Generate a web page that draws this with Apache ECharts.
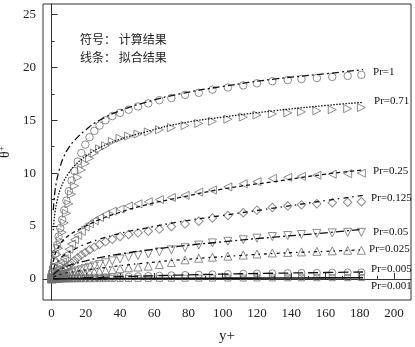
<!DOCTYPE html>
<html>
<head>
<meta charset="utf-8">
<script src="https://cdn.jsdelivr.net/npm/echarts@6/dist/echarts.min.js"></script>
<style>
  html, body { margin: 0; padding: 0; background: #fff; }
  #chart { width: 415px; height: 347px; }
</style>
</head>
<body>
<div id="chart"></div>
<script>
// mesh points (y+) where the computed values are shown
const meshX = [0, 0.2, 0.6, 1.1, 1.7, 2.4, 3.2, 4.1, 5.1, 6.2, 7.4, 8.7, 10.1, 11.7, 13.4, 15.3, 17.4, 19.7, 22.2, 25,
  28, 31.5, 35.5, 40, 45, 50.5, 56.5, 63, 70, 78, 86, 94, 103, 112, 120, 129, 138, 146, 155, 164, 173, 181]

// computed results (symbols)
const calcPr1 = [0, 0.2, 0.6, 1.1, 1.7, 2.4, 3.2, 4.0, 4.8, 5.6, 6.5, 7.4, 8.3, 9.3, 10.2, 11.1, 11.9, 12.7, 13.4, 14.0,
  14.5, 15.0, 15.4, 15.7, 16.0, 16.3, 16.6, 16.9, 17.1, 17.4, 17.6, 17.9, 18.1, 18.3, 18.5, 18.7, 18.8, 18.9, 19.0, 19.1, 19.2, 19.3]
const calcPr071 = [0, 0.14, 0.43, 0.78, 1.2, 1.7, 2.3, 2.9, 3.6, 4.4, 5.3, 6.2, 7.1, 8.0, 8.8, 9.6, 10.3, 10.9, 11.4, 11.9,
  12.3, 12.6, 13.0, 13.3, 13.5, 13.7, 13.9, 14.1, 14.3, 14.5, 14.7, 14.9, 15.1, 15.3, 15.5, 15.6, 15.7, 15.8, 15.9, 16.0, 16.1, 16.2]
const calcPr025 = [0, 0.05, 0.15, 0.28, 0.43, 0.6, 0.8, 1.0, 1.3, 1.6, 1.9, 2.3, 2.8, 3.3, 3.7, 4.1, 4.5, 4.9, 5.2, 5.5,
  5.8, 6.1, 6.4, 6.6, 6.9, 7.1, 7.3, 7.5, 7.7, 7.9, 8.2, 8.4, 8.7, 9.0, 9.2, 9.5, 9.6, 9.7, 9.8, 9.9, 9.95, 10.0]
const calcPr0125 = [0, 0.03, 0.08, 0.14, 0.21, 0.3, 0.4, 0.5, 0.64, 0.78, 0.93, 1.1, 1.3, 1.5, 1.75, 2.0, 2.25, 2.5, 2.75, 3.0,
  3.25, 3.5, 3.75, 4.0, 4.2, 4.35, 4.5, 4.7, 4.95, 5.2, 5.45, 5.75, 6.0, 6.25, 6.5, 6.75, 6.9, 7.0, 7.1, 7.2, 7.25, 7.3]
const calcPr005 = [0, 0.01, 0.03, 0.055, 0.085, 0.12, 0.16, 0.2, 0.25, 0.31, 0.37, 0.43, 0.5, 0.58, 0.66, 0.76, 0.86, 0.97, 1.09, 1.22,
  1.36, 1.52, 1.7, 1.88, 2.05, 2.2, 2.35, 2.55, 2.75, 2.95, 3.2, 3.4, 3.55, 3.7, 3.85, 4.0, 4.1, 4.2, 4.3, 4.35, 4.4, 4.4]
const calcPr0025 = [0, 0.005, 0.015, 0.03, 0.04, 0.06, 0.08, 0.1, 0.13, 0.16, 0.19, 0.22, 0.26, 0.3, 0.34, 0.39, 0.44, 0.5, 0.56, 0.63,
  0.7, 0.78, 0.87, 0.96, 1.05, 1.12, 1.2, 1.35, 1.55, 1.8, 1.95, 2.05, 2.15, 2.25, 2.35, 2.45, 2.5, 2.55, 2.6, 2.65, 2.7, 2.7]
const calcPr0005 = [0, 0.001, 0.003, 0.006, 0.009, 0.012, 0.016, 0.02, 0.026, 0.03, 0.037, 0.044, 0.05, 0.06, 0.067, 0.077, 0.087, 0.1, 0.11, 0.125,
  0.14, 0.16, 0.18, 0.2, 0.22, 0.25, 0.28, 0.31, 0.34, 0.37, 0.4, 0.43, 0.46, 0.49, 0.51, 0.53, 0.55, 0.57, 0.58, 0.6, 0.61, 0.62]
const calcPr0001 = [0, 0, 0, 0.001, 0.001, 0.002, 0.003, 0.003, 0.004, 0.005, 0.006, 0.007, 0.008, 0.009, 0.011, 0.012, 0.014, 0.016, 0.018, 0.02,
  0.022, 0.025, 0.028, 0.032, 0.036, 0.04, 0.045, 0.05, 0.055, 0.06, 0.065, 0.07, 0.075, 0.08, 0.085, 0.09, 0.095, 0.1, 0.105, 0.11, 0.115, 0.12]

// fitted curves (lines)
const fitX = [1, 1.5, 2, 3, 4, 5, 7, 10, 14, 20, 28, 40, 55, 75, 100, 130, 160, 182]
const fitPr1 = [6.5, 7.5, 8.3, 9.3, 10.0, 10.6, 11.5, 12.4, 13.2, 14.1, 15.0, 15.9, 16.7, 17.5, 18.2, 18.9, 19.4, 19.8]
const fitPr071 = [4.6, 5.6, 6.3, 7.2, 7.9, 8.4, 9.2, 10.0, 10.8, 11.6, 12.4, 13.2, 13.9, 14.7, 15.3, 15.9, 16.4, 16.7]
const fitPr025 = [1.6, 2.0, 2.3, 2.7, 3.0, 3.3, 3.7, 4.1, 4.5, 5.0, 5.6, 6.3, 7.0, 7.7, 8.5, 9.2, 9.9, 10.3]
const fitPr0125 = [0.9, 1.1, 1.3, 1.5, 1.75, 1.95, 2.2, 2.5, 2.85, 3.3, 3.75, 4.3, 4.8, 5.4, 6.0, 6.7, 7.4, 7.9]
const fitPr005 = [0.35, 0.45, 0.55, 0.7, 0.8, 0.9, 1.05, 1.25, 1.45, 1.7, 2.0, 2.35, 2.7, 3.1, 3.5, 3.95, 4.35, 4.7]
const fitPr0025 = [0.15, 0.2, 0.25, 0.3, 0.35, 0.4, 0.5, 0.6, 0.7, 0.85, 1.0, 1.25, 1.5, 1.8, 2.1, 2.4, 2.6, 2.75]
const fitPr0005 = [0.005, 0.007, 0.01, 0.015, 0.02, 0.025, 0.035, 0.05, 0.07, 0.1, 0.14, 0.2, 0.27, 0.36, 0.45, 0.53, 0.6, 0.65]
const fitPr0001 = [0, 0, 0, 0, 0, 0.005, 0.007, 0.01, 0.014, 0.02, 0.025, 0.035, 0.045, 0.055, 0.065, 0.08, 0.09, 0.1]

const xTicks = [0, 20, 40, 60, 80, 100, 120, 140, 160, 180, 200]
const xMinor = [10, 30, 50, 70, 90, 110, 130, 150, 170, 190]
const yTicks = [0, 5, 10, 15, 20, 25]
const yMinor = [2.5, 7.5, 12.5, 17.5, 22.5]

const serif = 'Liberation Serif'
const symColor = '#707070'

function pairs(xs, ys) {
  return xs.map((x, i) => [x, ys[i]])
}

function calcSeries(name, ys, symbol, rotate, size) {
  return {
    name: name + ' calc',
    type: 'scatter',
    symbol: symbol,
    symbolRotate: rotate,
    symbolSize: size,
    itemStyle: { color: 'transparent', borderColor: symColor, borderWidth: 1 },
    z: 2,
    data: pairs(meshX, ys)
  }
}

function fitSeries(name, ys, dash, offset, width) {
  return {
    name: name,
    type: 'line',
    smooth: true,
    showSymbol: false,
    z: 3,
    lineStyle: { color: '#111', width: width || 1.3, type: dash },
    endLabel: {
      show: true,
      formatter: name,
      fontFamily: serif,
      fontSize: 11,
      color: '#111',
      offset: offset
    },
    data: pairs(fitX, ys)
  }
}

const myChart = echarts.init(document.getElementById('chart'))

const option = {
  animation: false,
  grid: {
    left: 43, right: 4, top: 4, bottom: 47,
    outerBoundsMode: 'none',
    show: true, borderColor: '#333', borderWidth: 1
  },
  graphic: [
    { type: 'text', left: 80, top: 33, style: { text: '符号： 计算结果', font: '12px "Noto Sans CJK SC"', fill: '#222' } },
    { type: 'text', left: 80, top: 51, style: { text: '线条： 拟合结果', font: '12px "Noto Sans CJK SC"', fill: '#222' } }
  ],
  xAxis: [
    {
      type: 'value', min: -5, max: 210,
      name: 'y+', nameLocation: 'middle', nameGap: 29,
      nameTextStyle: { fontFamily: serif, fontSize: 15, color: '#222' },
      axisLine: { lineStyle: { color: '#333' } },
      axisTick: { inside: true, length: 6, customValues: xTicks, lineStyle: { color: '#333' } },
      axisLabel: { customValues: xTicks, fontFamily: serif, fontSize: 13, color: '#222', margin: 7 },
      splitLine: { show: false }
    },
    {
      type: 'value', min: -5, max: 210, position: 'bottom',
      axisLine: { show: false },
      axisTick: { inside: true, length: 3, customValues: xMinor, lineStyle: { color: '#333' } },
      axisLabel: { show: false },
      splitLine: { show: false }
    }
  ],
  yAxis: [
    {
      type: 'value', min: -2, max: 26,
      name: 'θ{s|+}', nameLocation: 'middle', nameGap: 28, nameRotate: 90,
      nameTextStyle: {
        fontFamily: serif, fontSize: 14, color: '#222',
        rich: { s: { fontFamily: serif, fontSize: 9, color: '#222', padding: [0, 0, 7, 0] } }
      },
      axisLine: { show: true, lineStyle: { color: '#333' } },
      axisTick: { show: true, inside: true, length: 6, customValues: yTicks, lineStyle: { color: '#333' } },
      axisLabel: { customValues: yTicks, fontFamily: serif, fontSize: 13, color: '#222', margin: 7 },
      splitLine: { show: false }
    },
    {
      type: 'value', min: -2, max: 26, position: 'left',
      axisLine: { show: false },
      axisTick: { show: true, inside: true, length: 3, customValues: yMinor, lineStyle: { color: '#333' } },
      axisLabel: { show: false },
      splitLine: { show: false }
    }
  ],
  series: [
    calcSeries('Pr=1', calcPr1, 'circle', 0, 7.5),
    calcSeries('Pr=0.71', calcPr071, 'triangle', -90, 8),
    calcSeries('Pr=0.25', calcPr025, 'triangle', 90, 8),
    calcSeries('Pr=0.125', calcPr0125, 'rect', 45, 6),
    calcSeries('Pr=0.05', calcPr005, 'triangle', 180, 8),
    calcSeries('Pr=0.025', calcPr0025, 'triangle', 0, 8),
    calcSeries('Pr=0.005', calcPr0005, 'circle', 0, 7),
    calcSeries('Pr=0.001', calcPr0001, 'rect', 0, 6),
    fitSeries('Pr=1', fitPr1, [7, 3, 2, 3], [2, 3]),
    fitSeries('Pr=0.71', fitPr071, [1.5, 1.5], [3, -1]),
    fitSeries('Pr=0.25', fitPr025, [4, 3], [2, 1]),
    fitSeries('Pr=0.125', fitPr0125, [5, 4, 1.5, 4], [0, 3]),
    fitSeries('Pr=0.05', fitPr005, [8, 3, 2, 3], [2, 3]),
    fitSeries('Pr=0.025', fitPr0025, [3, 4, 1.5, 4], [-2, -1]),
    fitSeries('Pr=0.005', fitPr0005, [10, 5], [0, -3]),
    fitSeries('Pr=0.001', fitPr0001, 'solid', [0, 8], 1.6)
  ]
}

myChart.setOption(option)
</script>
</body>
</html>
